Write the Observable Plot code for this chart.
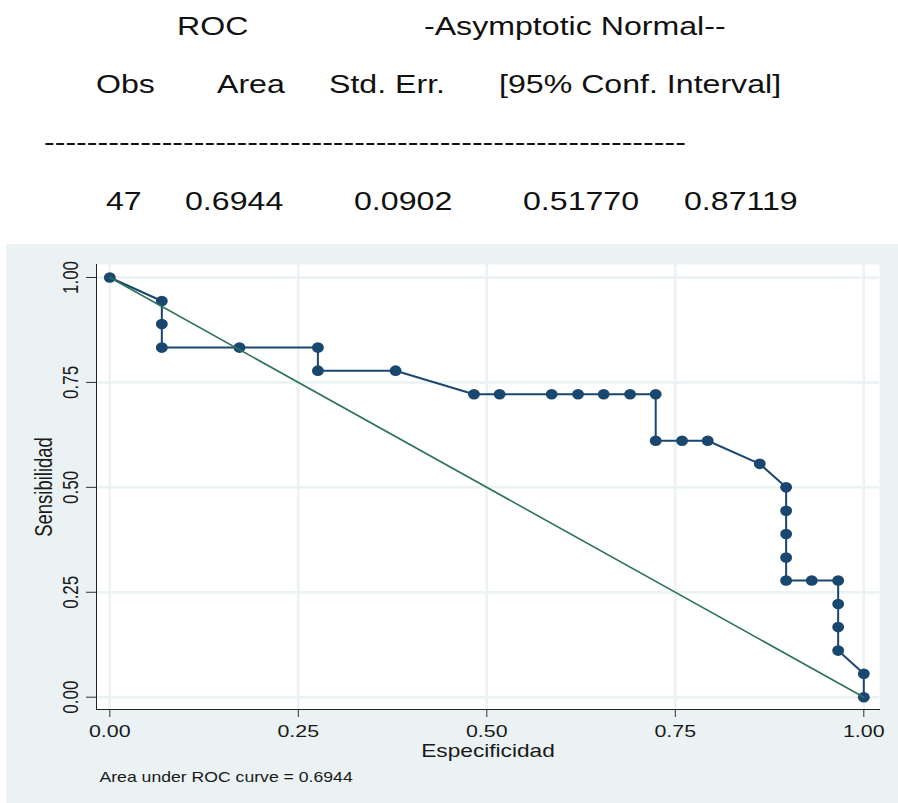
<!DOCTYPE html>
<html>
<head>
<meta charset="utf-8">
<script src="https://cdn.jsdelivr.net/npm/d3@7"></script>
<script src="https://cdn.jsdelivr.net/npm/@observablehq/plot@0.6"></script>
<style>
  html, body { margin: 0; padding: 0; background: #ffffff; }
  body { width: 898px; height: 803px; overflow: hidden; font-family: "Liberation Sans", Arial, sans-serif; }
  #header svg { display: block; }
  #chart { margin-left: 6px; }
  #chart svg { display: block; }
</style>
</head>
<body>
<div id="header"></div>
<div id="chart"></div>
<script>
// ---------- data ----------
const headerTitles = ["ROC", "-Asymptotic Normal--"];
const headerColumns = ["Obs", "Area", "Std. Err.", "[95% Conf. Interval]"];
const headerRule = "-".repeat(60);
const obsCount = 47;
const areaValue = 0.6944;
const stdErrValue = 0.0902;
const ciLower = 0.51770;
const ciUpper = 0.87119;

const especificidad = [0, 0.069, 0.069, 0.069, 0.172, 0.276, 0.276, 0.379, 0.483, 0.517, 0.586, 0.621, 0.655, 0.690, 0.724, 0.724, 0.759, 0.793, 0.862, 0.897, 0.897, 0.897, 0.897, 0.897, 0.931, 0.966, 0.966, 0.966, 0.966, 1, 1];
const sensibilidad = [1, 0.944, 0.889, 0.833, 0.833, 0.833, 0.778, 0.778, 0.722, 0.722, 0.722, 0.722, 0.722, 0.722, 0.722, 0.611, 0.611, 0.611, 0.556, 0.5, 0.444, 0.389, 0.333, 0.278, 0.278, 0.278, 0.222, 0.167, 0.111, 0.056, 0];
const refEspecificidad = [0, 1];
const refSensibilidad = [1, 0];

const xTicks = [0, 0.25, 0.5, 0.75, 1];
const yTicks = [0, 0.25, 0.5, 0.75, 1];
const xTitle = "Especificidad";
const yTitle = "Sensibilidad";
const noteText = "Area under ROC curve = " + areaValue.toFixed(4);

// ---------- helpers ----------
const STRETCH = 1.26;
function stretchTexts(root, s) {
  root.querySelectorAll("text").forEach(t => {
    const old = t.getAttribute("transform") || "";
    const m = old.match(/translate\(\s*([-\d.e]+)[\s,]+([-\d.e]+)\s*\)/);
    let ax = parseFloat(t.getAttribute("x") || "0") || 0;
    if (m) ax += parseFloat(m[1]);
    t.setAttribute("transform", `translate(${ax},0) scale(${s},1) translate(${-ax},0) ${old}`);
  });
}

// ---------- header ----------
const fmtResult = [String(obsCount), areaValue.toFixed(4), stdErrValue.toFixed(4), ciLower.toFixed(5), ciUpper.toFixed(5)];
const headerItems = [
  {t: headerTitles[0], x: 177, y: 35},
  {t: headerTitles[1], x: 424, y: 35},
  {t: headerColumns[0], x: 96, y: 93},
  {t: headerColumns[1], x: 217, y: 93},
  {t: headerColumns[2], x: 329, y: 93},
  {t: headerColumns[3], x: 499, y: 93},
  {t: headerRule, x: 44, y: 151},
  {t: fmtResult[0], x: 106, y: 210},
  {t: fmtResult[1], x: 185, y: 210},
  {t: fmtResult[2], x: 354, y: 210},
  {t: fmtResult[3], x: 523, y: 210},
  {t: fmtResult[4], x: 684, y: 210}
];
const hsvg = d3.select("#header").append("svg").attr("width", 898).attr("height", 244);
hsvg.selectAll("text").data(headerItems).join("text")
  .attr("x", d => d.x).attr("y", d => d.y)
  .attr("font-family", "'Liberation Sans', Arial, sans-serif")
  .attr("font-size", 25.5)
  .attr("fill", "#111")
  .text(d => d.t);
stretchTexts(hsvg.node(), STRETCH);

// ---------- chart ----------
const rocData = especificidad.map((e, i) => ({esp: e, sens: sensibilidad[i]}));
const refData = refEspecificidad.map((e, i) => ({esp: e, sens: refSensibilidad[i]}));
const fmt = d3.format(".2f");
const navy = "#1a476f";
const grid = "#eaf2f3";

const chart = Plot.plot({
  width: 892,
  height: 559,
  marginLeft: 90, marginRight: 19, marginTop: 20, marginBottom: 94,
  insetLeft: 13.3, insetRight: 15.7, insetTop: 13, insetBottom: 12.3,
  x: {domain: [0, 1]},
  y: {domain: [0, 1]},
  style: {background: "#eaf2f3", fontFamily: "'Liberation Sans', Arial, sans-serif", fontSize: "17px", color: "#1a1a1a", overflow: "visible"},
  marks: [
    Plot.frame({fill: "white", stroke: "none"}),
    Plot.gridX(xTicks, {stroke: grid, strokeOpacity: 1, strokeWidth: 2.5}),
    Plot.gridY(yTicks, {stroke: grid, strokeOpacity: 1, strokeWidth: 2.5}),
    Plot.line(rocData, {x: "esp", y: "sens", stroke: navy, strokeWidth: 2}),
    Plot.dot(rocData, {x: "esp", y: "sens", r: 5.3, fill: navy, stroke: "none"}),
    Plot.line(refData, {x: "esp", y: "sens", stroke: "#2d735c", strokeWidth: 1.6}),
    Plot.frame({anchor: "left", stroke: "#222"}),
    Plot.frame({anchor: "bottom", stroke: "#222"}),
    Plot.axisX(xTicks, {tickSize: 8, tickPadding: 7, tickFormat: fmt, label: null, stroke: "#333"}),
    Plot.axisY(yTicks, {tickSize: 10, tickFormat: () => "", label: null, stroke: "#333"}),
    Plot.text(yTicks, {y: d => d, text: d => fmt(d), frameAnchor: "left", dx: -34.2, rotate: -90, textAnchor: "middle", lineAnchor: "top", fontSize: 17}),
    Plot.text([xTitle], {text: d => d, frameAnchor: "bottom", dy: 34.5, lineAnchor: "top", fontSize: 18}),
    Plot.text([yTitle], {text: d => d, frameAnchor: "left", dx: -60.8, rotate: -90, textAnchor: "middle", lineAnchor: "top", fontSize: 18.5}),
    Plot.text([noteText], {text: d => d, frameAnchor: "bottom-left", dx: 3, dy: 62.8, textAnchor: "start", lineAnchor: "top", fontSize: 14})
  ]
});
stretchTexts(chart, STRETCH);
chart.querySelectorAll("circle").forEach(c => {
  const cx = parseFloat(c.getAttribute("cx") || "0");
  const old = c.getAttribute("transform") || "";
  c.setAttribute("transform", `translate(${cx},0) scale(1.12,1) translate(${-cx},0) ${old}`);
});
document.getElementById("chart").appendChild(chart);
</script>
</body>
</html>
